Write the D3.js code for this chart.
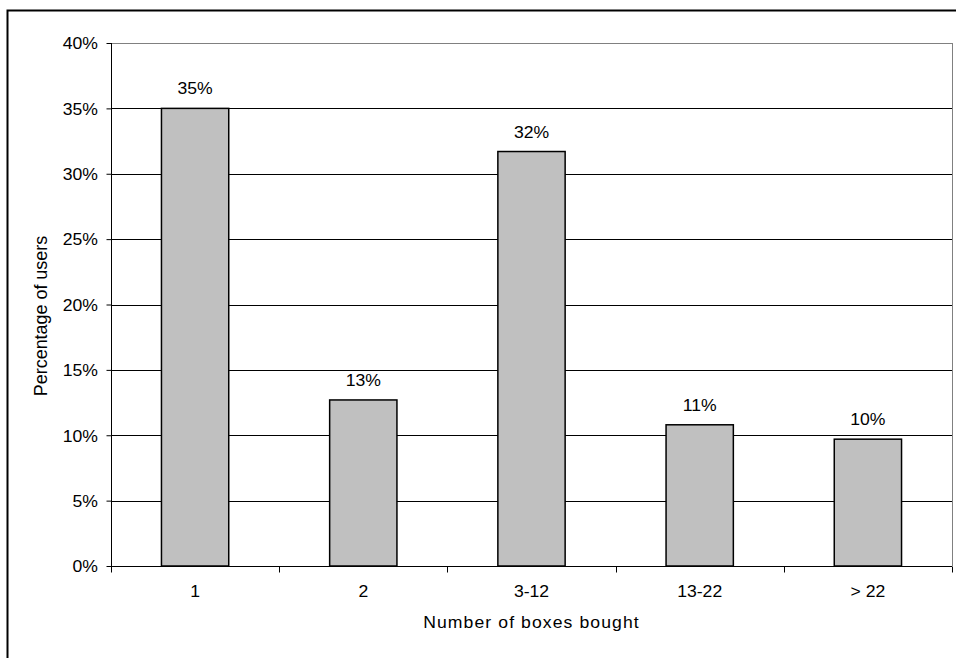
<!DOCTYPE html>
<html lang="en">
<head>
    <meta charset="UTF-8">
    <title>Number of boxes bought</title>
    <script src="https://d3js.org/d3.v7.min.js"></script>
    <style>
        body { margin: 0; background: #fff; }
        text { font-family: "Liberation Sans", Arial, sans-serif; fill: #000; }
    </style>
</head>
<body>
    <svg id="chart" width="956" height="658"></svg>

    <script>
        // Data
        const categories = ["1", "2", "3-12", "13-22", "> 22"];
        const shares = [0.35, 0.127, 0.317, 0.108, 0.097];
        const shareLabels = ["35%", "13%", "32%", "11%", "10%"];
        const yTicks = [0, 0.05, 0.10, 0.15, 0.20, 0.25, 0.30, 0.35, 0.40];

        const fontSize = '16px';
        const stretch = 1.1; // text in the picture is a little wider than the font

        const svg = d3.select('#chart');

        // outer frame of the chart object
        svg.append('rect')
            .attr('x', 7.5).attr('y', 10.5)
            .attr('width', 960).attr('height', 660)
            .attr('fill', 'none')
            .attr('stroke', '#000')
            .attr('stroke-width', 2);

        const plot = { left: 111, right: 952, top: 43, bottom: 566 };

        const x = d3.scaleBand()
            .domain(categories)
            .range([plot.left, plot.right]);

        const y = d3.scaleLinear()
            .domain([0, 0.4])
            .range([plot.bottom, plot.top]);

        // gridlines
        svg.append('g')
            .selectAll('line')
            .data(yTicks.filter(d => d > 0))
            .enter().append('line')
            .attr('x1', plot.left).attr('x2', plot.right)
            .attr('y1', d => Math.round(y(d)) + 0.5)
            .attr('y2', d => Math.round(y(d)) + 0.5)
            .attr('stroke', d => d === 0.4 ? '#808080' : '#000');

        // right border of plot area
        svg.append('line')
            .attr('x1', plot.right + 0.5).attr('x2', plot.right + 0.5)
            .attr('y1', plot.top).attr('y2', plot.bottom)
            .attr('stroke', '#808080');

        // bars
        const barW = x.bandwidth() * 0.4;
        svg.append('g')
            .selectAll('rect')
            .data(shares)
            .enter().append('rect')
            .attr('x', (d, i) => x(categories[i]) + (x.bandwidth() - barW) / 2)
            .attr('y', d => y(d))
            .attr('width', barW)
            .attr('height', d => y(0) - y(d))
            .attr('fill', '#c0c0c0')
            .attr('stroke', '#000')
            .attr('stroke-width', 1.5);

        // value labels
        svg.append('g')
            .selectAll('text')
            .data(shares)
            .enter().append('text')
            .attr('transform', (d, i) =>
                `translate(${x(categories[i]) + x.bandwidth() / 2},${y(d) - 14}) scale(${stretch},1)`)
            .attr('text-anchor', 'middle')
            .attr('font-size', fontSize)
            .text((d, i) => shareLabels[i]);

        // y axis
        const yAxis = d3.axisLeft(y)
            .tickValues(yTicks)
            .tickFormat(d3.format('.0%'))
            .tickSize(5);
        const gy = svg.append('g')
            .attr('transform', `translate(${plot.left + 0.5},0)`)
            .call(yAxis);
        gy.select('.domain').attr('stroke', '#000').attr('d', `M0,${plot.top}V${plot.bottom}`);
        gy.selectAll('.tick line').attr('stroke', '#000');
        gy.selectAll('.tick text')
            .attr('x', 0)
            .attr('dy', '0.36em')
            .attr('transform', `translate(-13.5,0) scale(${stretch},1)`)
            .attr('font-size', fontSize)
            .attr('font-family', '"Liberation Sans", Arial, sans-serif');

        // x axis
        const xAxis = d3.axisBottom(x).tickSize(0);
        const gx = svg.append('g')
            .attr('transform', `translate(0,${plot.bottom + 0.5})`)
            .call(xAxis);
        gx.select('.domain').attr('stroke', '#000').attr('d', `M${plot.left},0H${plot.right}`);
        gx.selectAll('.tick text')
            .attr('y', 0)
            .attr('dy', 0)
            .attr('transform', `translate(0,30) scale(${stretch},1)`)
            .attr('font-size', fontSize)
            .attr('font-family', '"Liberation Sans", Arial, sans-serif');

        // category boundary ticks
        const bounds = categories.map(c => x(c)).concat([plot.right]);
        gx.selectAll('.bound')
            .data(bounds)
            .enter().append('line')
            .attr('class', 'bound')
            .attr('x1', d => Math.round(d) + 0.5).attr('x2', d => Math.round(d) + 0.5)
            .attr('y1', 0).attr('y2', 6)
            .attr('stroke', '#000');

        // axis titles
        svg.append('text')
            .attr('transform', `translate(${(plot.left + plot.right) / 2},628) scale(${stretch},1)`)
            .attr('text-anchor', 'middle')
            .attr('font-size', fontSize)
            .attr('letter-spacing', '1px')
            .text('Number of boxes bought');

        svg.append('text')
            .attr('transform', `translate(47,316) rotate(-90) scale(1.12,1.1)`)
            .attr('text-anchor', 'middle')
            .attr('font-size', fontSize)
            .text('Percentage of users');
    </script>
</body>
</html>
